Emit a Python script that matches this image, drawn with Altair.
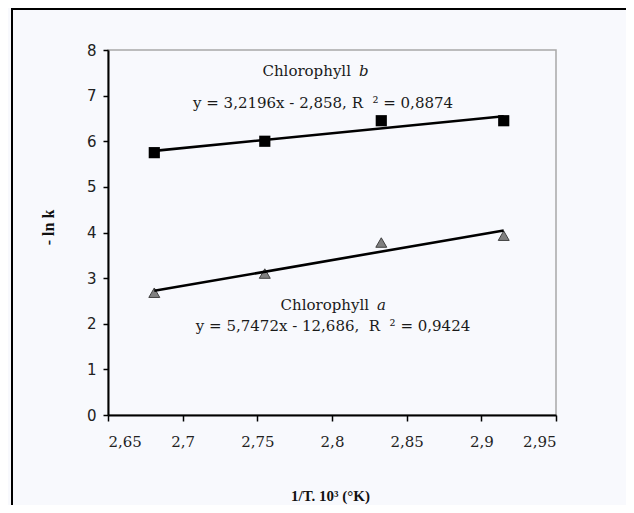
import altair as alt
import pandas as pd

# ---- data ----
inv_T = [2.681, 2.755, 2.833, 2.915]          # 1/T . 10^3
chl_b = [5.75, 6.00, 6.45, 6.45]              # -ln k, chlorophyll b
chl_a = [2.68, 3.10, 3.78, 3.93]              # -ln k, chlorophyll a
x_ticks = [2.65, 2.70, 2.75, 2.80, 2.85, 2.90, 2.95]
y_ticks = [0, 1, 2, 3, 4, 5, 6, 7, 8]

name_words = ["Chlorophyll", "Chlorophyll"]
name_letters = ["b", "a"]
name_x = [2.8147, 2.8268]
name_y = [7.53, 2.41]
eq_texts = ["y = 3,2196x - 2,858, R\u00a0\u00a0² = 0,8874",
            "y = 5,7472x - 12,686,\u00a0\u00a0R\u00a0\u00a0² = 0,9424"]
eq_x = [2.794, 2.8007]
eq_y = [6.84, 1.94]

df_b = pd.DataFrame({"x": inv_T, "y": chl_b})
df_a = pd.DataFrame({"x": inv_T, "y": chl_a})
df_names = pd.DataFrame({"x": name_x, "y": name_y, "w": name_words, "l": name_letters})
df_eq = pd.DataFrame({"x": eq_x, "y": eq_y, "t": eq_texts})

xscale = alt.Scale(domain=[2.65, 2.95], nice=False, zero=False)
yscale = alt.Scale(domain=[0, 8], nice=False)

xaxis = alt.Axis(
    values=x_ticks,
    labelExpr="replace(format(datum.value, '.3~g'), '.', ',')",
    title="1/T. 10³ (°K)",
    titleFont="Liberation Serif", titleFontWeight="bold", titleFontSize=15,
    titleColor="#111", titleX=222, titleY=80, titleAlign="center", titleBaseline="middle",
    labelFont="DejaVu Serif", labelFontSize=15, labelColor="#222", labelPadding=13,
    tickSize=6, tickColor="black", tickWidth=1.5,
    domainColor="black", domainWidth=2, grid=False,
)
yaxis = alt.Axis(
    values=y_ticks, format="d",
    title="- ln k",
    titleFont="Liberation Serif", titleFontWeight="bold", titleFontSize=16,
    titleColor="#111", titleAngle=270, titleX=-60, titleY=177,
    titleAlign="center", titleBaseline="middle",
    labelFont="DejaVu Sans", labelFontSize=15, labelColor="#222", labelPadding=7,
    tickSize=5, tickColor="black", tickWidth=1.5,
    domainColor="black", domainWidth=2, grid=False,
)

X = alt.X("x:Q", scale=xscale, axis=xaxis)
Y = alt.Y("y:Q", scale=yscale, axis=yaxis)
Xn = alt.X("x:Q", scale=xscale)
Yn = alt.Y("y:Q", scale=yscale)

border = alt.Chart(pd.DataFrame({"d": [0]})).mark_rect(
    fill="transparent", stroke="black", strokeWidth=2
).encode(x=alt.value(-96), x2=alt.value(545), y=alt.value(-41), y2=alt.value(475))

pts_b = alt.Chart(df_b).mark_point(
    shape="square", filled=True, size=125, color="black", opacity=1
).encode(x=X, y=Y)

pts_a = alt.Chart(df_a).mark_point(
    shape="triangle-up", filled=True, size=120, fill="#808080",
    stroke="#404040", strokeWidth=1, opacity=1
).encode(x=Xn, y=Yn)

fit_b = alt.Chart(df_b).transform_regression("x", "y").mark_line(
    color="black", strokeWidth=2.6
).encode(x=Xn, y=Yn)

fit_a = alt.Chart(df_a).transform_regression("x", "y").mark_line(
    color="black", strokeWidth=2.6
).encode(x=Xn, y=Yn)

names_w = alt.Chart(df_names).mark_text(
    font="DejaVu Serif", fontSize=15, color="#1a1a1a", align="right", baseline="middle", dx=-3
).encode(x=Xn, y=Yn, text="w:N")

names_l = alt.Chart(df_names).mark_text(
    font="DejaVu Serif", fontSize=15, fontStyle="italic", color="#1a1a1a",
    align="left", baseline="middle", dx=5
).encode(x=Xn, y=Yn, text="l:N")

eqs = alt.Chart(df_eq).mark_text(
    font="DejaVu Serif", fontSize=15, color="#1a1a1a", align="center", baseline="middle"
).encode(x=Xn, y=Yn, text="t:N")

chart = alt.layer(border, pts_b, pts_a, fit_b, fit_a, names_w, names_l, eqs).properties(
    width=448, height=365,
    autosize=alt.AutoSizeParams(type="none"),
    padding={"left": 100, "top": 42, "right": 70, "bottom": 90},
    background="#f8f9fd",
).configure_view(stroke="#a8a8a8", strokeWidth=1.5)

chart.save("out.html", embed_options={"renderer": "svg", "actions": False})
